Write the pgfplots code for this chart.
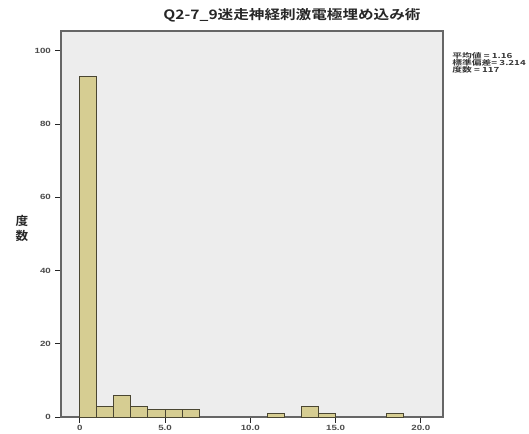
\documentclass[border=0pt]{standalone}
\usepackage{pgfplots}
\pgfplotsset{compat=1.18}
\usepackage{fontspec}
\setmainfont{Liberation Sans}
\newfontfamily\cjk{Noto Sans CJK JP}[BoldFont={Noto Sans CJK JP Bold}]
\definecolor{barfill}{HTML}{D6CD92}
\definecolor{baredge}{HTML}{4A4632}
\definecolor{plotbg}{HTML}{EDEDED}
\definecolor{frame}{HTML}{666666}
\begin{document}
\begin{tikzpicture}
\path (0pt,0pt) rectangle (529pt,433pt);
\begin{axis}[
  at={(61pt,16pt)}, anchor=south west,
  width=382pt, height=386pt, scale only axis,
  xmin=-1.1, xmax=21.3, ymin=0, ymax=105.4,
  axis background/.style={fill=plotbg},
  axis line style={frame, line width=1.2pt},
  xtick={0,5,10,15,20},
  xticklabels={0,5.0,10.0,15.0,20.0},
  ytick={0,20,40,60,80,100},
  tick align=outside, tick pos=left,
  major tick length=5.5pt,
  tick style={black!85, line width=1pt},
  ticklabel style={font=\bfseries\fontsize{7.5}{8}\selectfont, text=black!70, xscale=1.3},
  xticklabel style={yshift=1pt},
  /pgf/number format/assume math mode=true,
]
\addplot[ybar, bar width=1, bar shift=0pt, fill=barfill, draw=baredge, line width=1pt]
coordinates {
  (0.5,93) (1.5,3) (2.5,6) (3.5,3) (4.5,2) (5.5,2) (6.5,2)
  (11.5,1) (13.5,3) (14.5,1) (18.5,1)
};
\end{axis}
\node[font=\cjk\bfseries\fontsize{13}{14}\selectfont, text=black!85, xscale=1.2] at (292pt,418pt) {Q2-7\_9迷走神経刺激電極埋め込み術};
\node[font=\cjk\bfseries\fontsize{12}{15}\selectfont, align=center, text=black!85, xscale=1.05] at (22pt,205pt) {度\\数};
\node[font=\cjk\bfseries\fontsize{7}{7}\selectfont, align=left, anchor=north west, text=black!80, inner sep=0pt, xscale=1.4] at (452pt,381pt) {平均値 = 1.16\\標準偏差= 3.214\\度数 = 117};
\end{tikzpicture}
\end{document}
